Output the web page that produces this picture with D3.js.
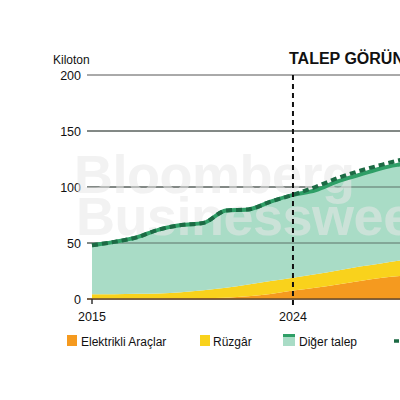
<!DOCTYPE html>
<html><head><meta charset="utf-8">
<script src="https://cdn.jsdelivr.net/npm/d3@7"></script>
<style>body{margin:0;background:#fff;overflow:hidden}svg{display:block;font-family:"Liberation Sans",Arial,sans-serif}</style>
</head><body>
<script>
const years = [2015,2016,2017,2018,2019,2020,2021,2022,2023,2024,2025,2026,2027,2028,2029,2030];
const evVals    = [0.3,0.3,0.4,0.5,0.6,0.8,1.2,2.5,4.5,7.5,10,13,16,19,21,23];
const windVals  = [4,4,4.2,4.5,5.4,7,8.8,10.5,11.5,11.5,12,12.5,13,13,14,14.5];
const totalVals = [48,51,55,62,66,68,79,80,87,93,97,105,111,117,121,125];
const scenarioVals = [48,51,55,62,66,68,79,80,87,93,100,108,114.5,120,125,129];
const yTicks = [0,50,100,150,200];
const xTickLabels = [2015,2024];
const legendLabels = ["Elektrikli Araçlar","Rüzgâr","Diğer talep"];
const colors = {ev:"#f59a1f", wind:"#f9d21c", other:"#a9dcc6", line:"#2f9f67", dash:"#1c6a44"};

const W=400,H=400;
const svg=d3.select("body").append("svg").attr("width",W).attr("height",H);
const x=d3.scaleLinear().domain([2015,2030]).range([92,92+15*22.33]);
const y=d3.scaleLinear().domain([0,200]).range([299,75]);

const data=years.map((yr,i)=>({year:yr,ev:evVals[i],wind:windVals[i],other:totalVals[i]-evVals[i]-windVals[i]}));
const stack=d3.stack().keys(["ev","wind","other"])(data);
const area=d3.area().x(d=>x(d.data.year)).y0(d=>y(d[0])).y1(d=>y(d[1])).curve(d3.curveMonotoneX);

// gridlines
svg.append("g").selectAll("line").data(yTicks).join("line")
 .attr("x1",87).attr("x2",W).attr("y1",d=>y(d)).attr("y2",d=>y(d))
 .attr("stroke","#555").attr("stroke-width",1);
svg.append("g").selectAll("text").data(yTicks).join("text")
 .attr("x",81).attr("y",d=>y(d)+4.5).attr("text-anchor","end")
 .attr("font-size",12.5).attr("fill","#111").text(d=>d);
svg.append("text").attr("x",53).attr("y",64).attr("font-size",12).attr("fill","#111").text("Kiloton");

// areas
const cmap={ev:colors.ev,wind:colors.wind,other:colors.other};
svg.append("g").selectAll("path").data(stack).join("path")
 .attr("d",area).attr("fill",d=>cmap[d.key]);

// gridlines over area
svg.append("g").selectAll("line").data([50,100,150]).join("line")
 .attr("x1",87).attr("x2",W).attr("y1",d=>y(d)).attr("y2",d=>y(d))
 .attr("stroke","#4a5a52").attr("stroke-width",1).attr("opacity",0.8);

// watermark
const wm=svg.append("g").attr("font-family","'Liberation Sans',Arial,sans-serif").attr("font-weight","bold")
 .attr("font-size",54).attr("fill","#e8e8e8").attr("opacity",0.55).attr("letter-spacing",-0.5);
wm.append("text").attr("x",74).attr("y",193).text("Bloomberg");
wm.append("text").attr("x",76).attr("y",235).text("Businessweek");

// baseline
svg.append("line").attr("x1",87).attr("x2",W).attr("y1",y(0)).attr("y2",y(0)).attr("stroke","#6a4a2a").attr("stroke-width",1.5);

// lines
const line=d3.line().x((d,i)=>x(years[i])).y(d=>y(d)).curve(d3.curveMonotoneX);
svg.append("path").attr("d",line(totalVals)).attr("fill","none").attr("stroke",colors.line).attr("stroke-width",4);
svg.append("path").attr("d",line(scenarioVals)).attr("fill","none").attr("stroke",colors.dash).attr("stroke-width",4).attr("stroke-dasharray","6,4");

// 2024 divider
svg.append("line").attr("x1",x(2024)).attr("x2",x(2024)).attr("y1",y(200)).attr("y2",307)
 .attr("stroke","#111").attr("stroke-width",2).attr("stroke-dasharray","5,4");
svg.append("line").attr("x1",x(2015)).attr("x2",x(2015)).attr("y1",y(0)).attr("y2",304).attr("stroke","#333").attr("stroke-width",1.5);

// x labels
svg.append("g").selectAll("text").data(xTickLabels).join("text")
 .attr("x",d=>x(d)).attr("y",321).attr("text-anchor","middle").attr("font-size",12.5).attr("fill","#111").text(d=>d);

// title
svg.append("text").attr("x",289).attr("y",64).attr("font-size",16).attr("font-weight","bold").attr("fill","#111").text("TALEP GÖRÜNÜMÜ");

// legend
const lg=svg.append("g");
const lx=[67,200,283];
lg.append("rect").attr("x",lx[0]).attr("y",335).attr("width",10).attr("height",11).attr("fill",colors.ev);
lg.append("rect").attr("x",lx[1]).attr("y",335).attr("width",10).attr("height",11).attr("fill",colors.wind);
lg.append("rect").attr("x",lx[2]).attr("y",335).attr("width",12).attr("height",11).attr("fill",colors.other);
lg.append("rect").attr("x",lx[2]).attr("y",334).attr("width",12).attr("height",3).attr("fill",colors.line);
[81,213,299].forEach((px,i)=>lg.append("text").attr("x",px).attr("y",345.5).attr("font-size",12).attr("fill","#111").text(legendLabels[i]));
lg.append("line").attr("x1",394).attr("x2",420).attr("y1",341).attr("y2",341).attr("stroke",colors.dash).attr("stroke-width",3.5).attr("stroke-dasharray","5,3");
</script>
</body></html>
